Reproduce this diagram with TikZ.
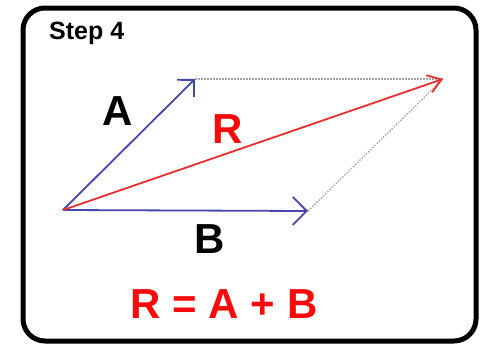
\documentclass[tikz,border=0pt]{standalone}
\usepackage{fontspec}
\setmainfont{Liberation Sans}
\usetikzlibrary{arrows.meta}
\definecolor{vblue}{RGB}{70,70,175}
\definecolor{vred}{RGB}{235,45,45}
\definecolor{tred}{RGB}{250,10,10}
\definecolor{dgray}{RGB}{165,165,165}
\begin{document}
\begin{tikzpicture}[x=1pt,y=-1pt,
  lbl/.style={inner sep=0pt,anchor=base,font=\bfseries\fontsize{42}{42}\selectfont},
  vec/.style={line width=1.8pt},
  dots/.style={dgray,line width=1.4pt,dash pattern=on 1.5pt off 1.5pt}]
\useasboundingbox (0,0) rectangle (480,346);
\draw[line width=5pt,rounded corners=22pt] (23,8) rectangle (476,341);
\node[inner sep=0pt,anchor=base west,font=\bfseries\fontsize{25}{25}\selectfont] (step) at (49,39) {Step 4};
\coordinate (O) at (63,210);
\coordinate (Atip) at (195,79);
\coordinate (Btip) at (308,211);
\coordinate (Rtip) at (443,79);
\draw[dots] (Atip) -- (Rtip);
\draw[dots] (Btip) -- (Rtip);
\draw[vec,vblue,-{Straight Barb[length=12pt,width=24pt,line width=1.8pt]}] (O) -- (Atip);
\draw[vec,vblue,-{Straight Barb[length=14pt,width=28pt,line width=1.8pt]}] (O) -- (Btip);
\draw[vec,vred,-{Straight Barb[length=13pt,width=18pt,line width=1.8pt]}] (O) -- (Rtip);
\node[lbl] (la) at (118,125) {A};
\node[lbl,text=tred] (lr) at (228,143) {R};
\node[lbl] (lb) at (210,253) {B};
\node[lbl,text=tred] (eq) at (224,318) {R = A + B};
\end{tikzpicture}
\end{document}
